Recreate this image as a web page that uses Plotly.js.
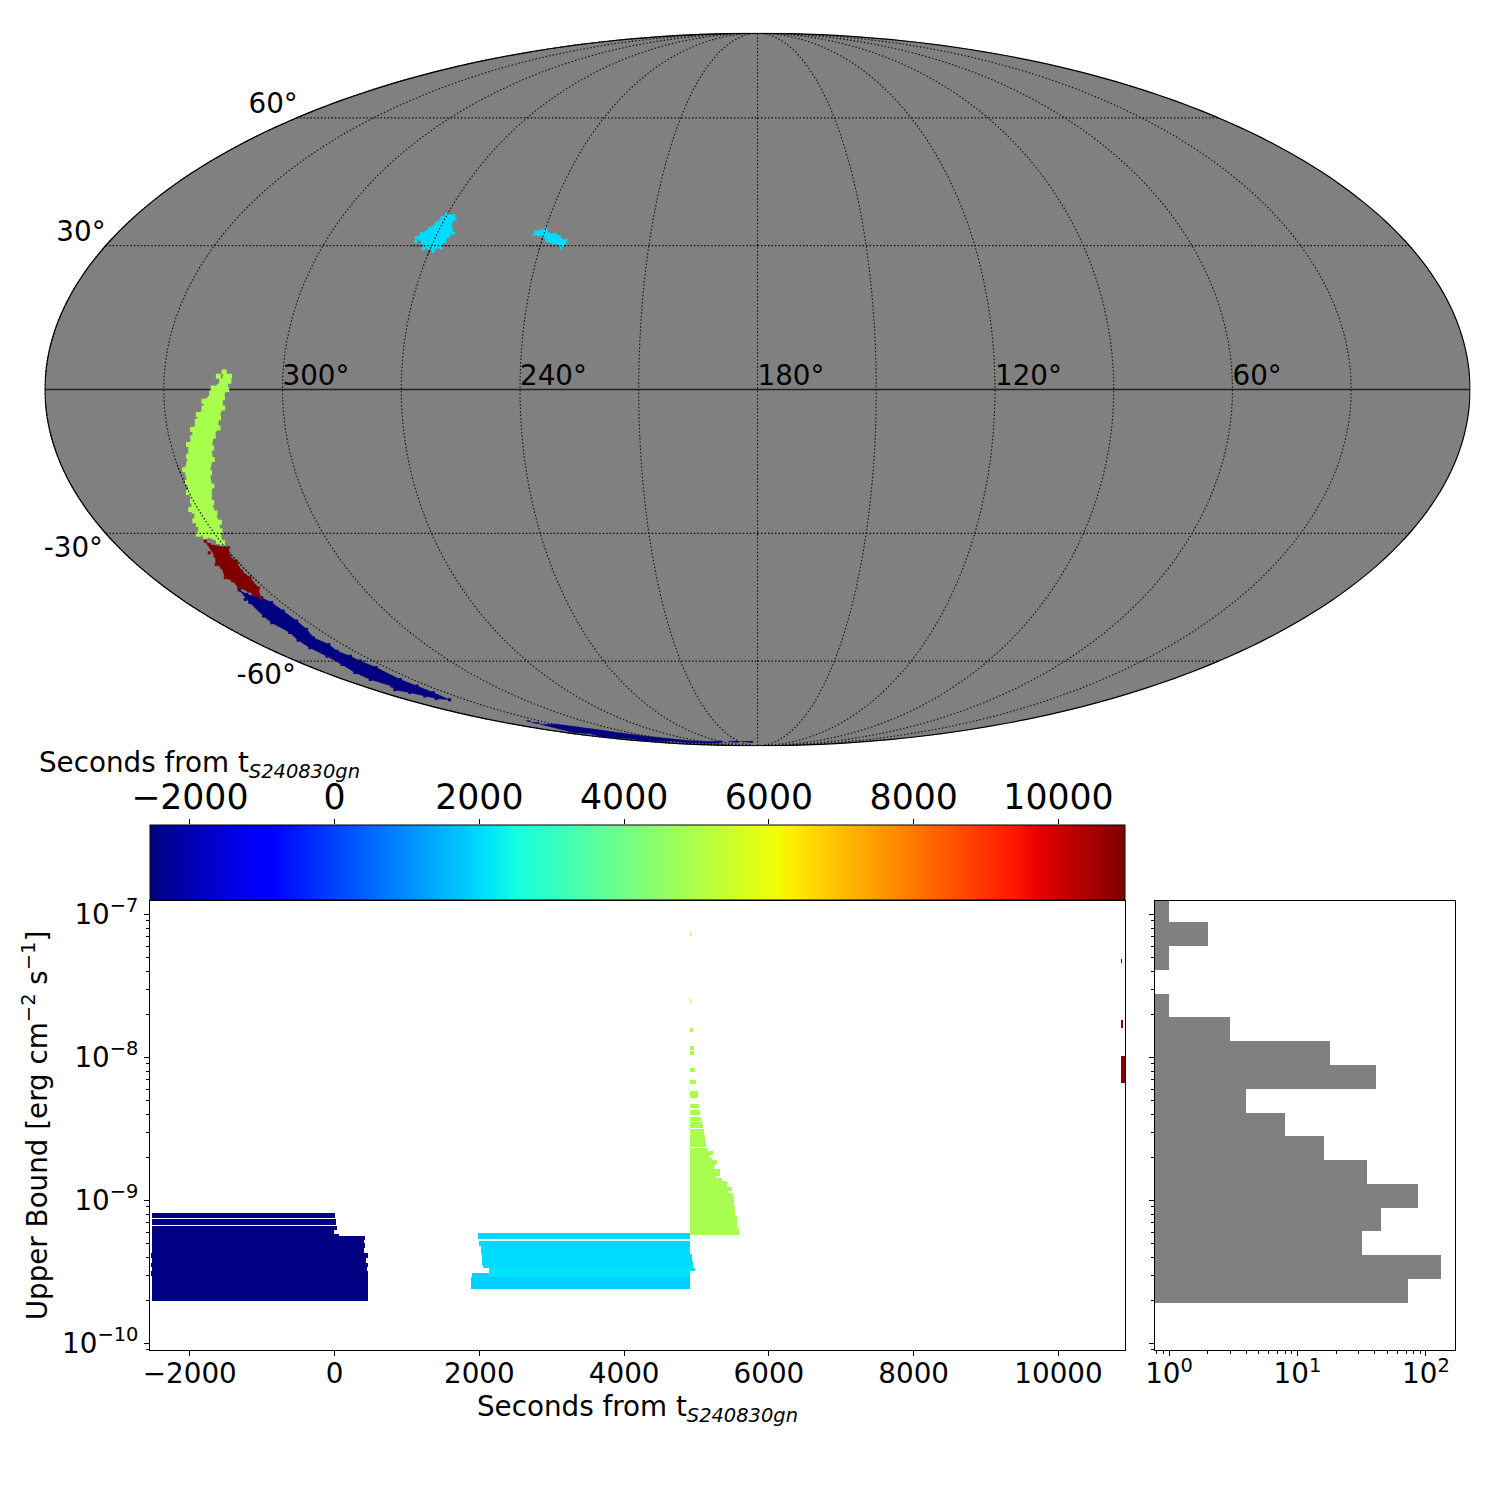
<!DOCTYPE html><html><head><meta charset="utf-8"><script src="https://cdn.plot.ly/plotly-3.0.1.min.js"></script><style>html,body{margin:0;background:#fff}.barlayer path{shape-rendering:crispEdges !important}</style></head><body><div id="chart" style="width:1500px;height:1500px"></div><script>
// ---- sky regions (right ascension, declination in degrees) ----
const greenRa=[314.9,313.5,313.6,314.1,315.2,315.3,316.6,317.1,318.7,319.8,320.5,322.4,323.2,325.4,326.1,326.5,328.0,329.7,330.5,333.1,334.6,332.6,332.9,331.4,332.1,330.3,330.2,329.2,328.5,326.3,325.5,324.0,323.6,322.1,321.6,320.0,319.9,317.9,317.5,315.4,316.3];
const greenDec=[3.6,2.7,1.7,0.0,-1.7,-3.8,-5.8,-7.9,-9.6,-12.0,-14.4,-17.2,-19.9,-23.4,-25.6,-27.6,-29.5,-32.0,-31.7,-30.6,-30.2,-28.1,-27.3,-25.2,-24.9,-23.1,-21.3,-19.2,-16.5,-13.7,-11.3,-9.9,-8.2,-6.5,-5.1,-3.8,-2.4,-0.7,0.3,1.7,2.7];
const redRa=[334.2,333.8,329.2,330.9,330.3,331.5,331.0,331.8,335.0,335.7,336.0,337.8,337.2,338.4,336.3,337.0,335.0,335.8];
const redDec=[-31.7,-32.4,-33.1,-34.9,-36.1,-38.3,-39.8,-42.1,-44.6,-43.6,-42.8,-42.1,-40.5,-39.8,-37.5,-36.8,-34.9,-34.2];
const navyRa=[338.4,337.7,334.4,333.2,333.0,333.2,334.0,336.4,335.1,336.5,335.1,335.1,334.0,335.3,335.3,335.9,338.4,343.1,344.7,347.1,350.4,346.7,348.3,347.5,345.1,344.0,344.1,343.3,341.6,342.3,341.7,340.0,340.2];
const navyDec=[-42.6,-43.6,-44.4,-45.5,-47.5,-49.9,-51.9,-54.0,-55.7,-57.4,-58.7,-60.0,-61.7,-65.0,-66.9,-68.8,-71.0,-70.6,-69.8,-68.8,-68.0,-66.9,-65.0,-63.1,-60.9,-58.7,-56.5,-54.6,-52.7,-50.3,-48.7,-45.5,-44.8];
const stripRa=[340.2,328.3,324.0,321.0,316.5,312.0,307.8,302.4,290.8,285.5,235.2,248.1,314.6,314.7,350.6,341.5,351.1,356.6,343.4,352.8,345.9,346.1];
const stripDec=[-79.2,-79.2,-79.9,-80.5,-81.2,-82.3,-83.3,-84.3,-85.3,-86.3,-86.5,-87.4,-87.4,-86.5,-86.5,-85.3,-84.8,-84.3,-83.0,-82.5,-81.2,-80.2];
const dashARa=[338.5,335.7,339.9,342.7], dashADec=[-77.9,-77.9,-78.4,-78.4];
const dashBRa=[340.7,335.4,339.9,345.3], dashBDec=[-78.6,-78.6,-79.1,-79.1];
const dashCRa=[226.5,210.6,218.5,238.6], dashCDec=[-86.7,-86.7,-87.6,-87.6];
const dashDRa=[205.3,187.7,189.7,211.8], dashDDec=[-86.7,-86.7,-87.6,-87.6];
const cyanARa=[275.3,274.4,272.8,271.7,271.0,270.3,268.0,267.0,267.6,266.6,265.5,266.5,266.8,267.5,267.1,268.8,268.9,270.6,271.9,272.8,274.9];
const cyanADec=[31.7,32.6,33.8,34.9,36.1,37.0,36.6,35.8,35.3,33.6,32.7,32.0,30.9,30.6,29.5,29.5,28.8,29.5,29.3,30.6,30.9];
const cyanBRa=[242.9,242.7,241.6,240.5,239.7,238.8,236.9,235.3,234.0,233.1,233.1,233.8,234.1,234.8,236.5,238.6,239.9,241.4];
const cyanBDec=[32.4,33.1,33.3,33.5,33.6,32.7,32.6,32.0,31.2,31.3,30.6,29.9,29.3,30.2,30.4,30.9,32.0,32.2];
// graticule pieces that show through the coloured regions
const overRa=[[330,330],[270,270],[240,240],[265,268,271,274,276],[233,236,239,242,243],[325,328,331,334,336],[333,335,337,339]];
const overDec=[[-41,-15],[28,37.5],[29,34],[30,30,30,30,30],[30,30,30,30,30],[-30,-30,-30,-30,-30],[-60,-60,-60,-60]];
// ---- upper-limit rows: log10 lower edge, log10 upper edge, start, end (s) ----
const navyLow=[-9.124,-9.170,-9.205,-9.236,-9.247,-9.278,-9.301,-9.336,-9.366,-9.406,-9.441,-9.469,-9.497,-9.529,-9.702];
const navyHigh=[-9.086,-9.131,-9.177,-9.205,-9.236,-9.247,-9.278,-9.301,-9.336,-9.366,-9.406,-9.441,-9.469,-9.497,-9.529];
const navyStart=[-2525,-2525,-2525,-2525,-2525,-2525,-2525,-2525,-2525,-2539,-2525,-2539,-2525,-2539,-2525];
const navyEnd=[7,21,35,-7,62,421,412,421,412,463,435,463,453,463,463];
const cyanLow=[-9.271,-9.317,-9.378,-9.424,-9.452,-9.476,-9.494,-9.536,-9.536,-9.620];
const cyanHigh=[-9.229,-9.285,-9.317,-9.378,-9.424,-9.452,-9.476,-9.508,-9.494,-9.536];
const cyanStart=[1987,1996,2023,2037,2042,2051,2134,1899,2134,1885];
const cyanEnd=[4910,4910,4910,4933,4952,4952,4979,4910,4910,4910];
const greenLow=[-7.152,-7.620,-7.823,-7.949,-7.984,-8.103,-8.187,-8.285,-8.355,-8.403,-8.445,-8.466,-8.494,-8.543,-8.585,-8.627,-8.655,-8.683,-8.704,-8.718,-8.748,-8.760,-8.781,-8.830,-8.844,-8.865,-8.907,-8.935,-8.949,-8.970,-9.040,-9.110,-9.194,-9.243];
const greenHigh=[-7.124,-7.592,-7.795,-7.921,-7.956,-8.075,-8.159,-8.236,-8.327,-8.369,-8.417,-8.452,-8.466,-8.504,-8.543,-8.585,-8.634,-8.655,-8.683,-8.704,-8.718,-8.748,-8.760,-8.781,-8.830,-8.844,-8.865,-8.907,-8.935,-8.949,-8.970,-9.040,-9.110,-9.194];
const greenStart=greenLow.map(()=>4910);
const greenEnd=[4924,4924,4952,4965,4965,4979,4993,5021,5035,5048,5062,5076,5090,5104,5117,5131,5159,5228,5173,5214,5283,5256,5242,5325,5269,5352,5421,5490,5435,5504,5518,5532,5559,5587];
const redLow=[-7.341,-7.795,-8.180], redHigh=[-7.313,-7.739,-7.991];
const redStart=[10863,10863,10863], redEnd=[10882,10891,10923];
// ---- histogram of upper bounds ----
const histLogEdgeFirst=-9.716, histLogBin=0.1662;
const histCounts=[72,131,32,45,87,35,16,8,4,41,18,3,1,0,1,2,1];
// ---- tick labels ----
const timeTicks=[-2000,0,2000,4000,6000,8000,10000];
const timeTickText=['−2000','0','2000','4000','6000','8000','10000'];
const ulTicks=[1e-10,1e-9,1e-8,1e-7];
const ulTickText=['10<sup>−10</sup>','10<sup>−9</sup>','10<sup>−8</sup>','10<sup>−7</sup>'];
const countTicks=[1,10,100];
const countTickText=['10<sup>0</sup>','10<sup>1</sup>','10<sup>2</sup>'];
const raLabels=[300,240,180,120,60];
const decLabels=[60,30,-30,-60];
const decLabelLon=[2.2,0.5,0.2,0.2];
const decLabelText=['60°','30°','-30°\u2009','-60°\u2009'];

const FONT="DejaVu Sans", BIG=27.78, CB=34.7, COL={green:'#a9ff4e',red:'#800000',navy:'#000080',cyan:'#00dcff'};
const jet=[[0,'rgb(0,0,128)'],[.11,'rgb(0,0,255)'],[.125,'rgb(0,0,255)'],[.34,'rgb(0,219,255)'],[.35,'rgb(0,230,247)'],[.375,'rgb(21,255,226)'],[.64,'rgb(239,255,8)'],[.65,'rgb(247,246,0)'],[.66,'rgb(255,236,0)'],[.89,'rgb(255,19,0)'],[.91,'rgb(232,0,0)'],[1,'rgb(128,0,0)']];
const flip=a=>a.map(r=>360-r);
const region=(ra,dec,c,size)=>({type:'scattergeo',mode:size?'lines+markers':'lines',lon:flip(ra),lat:dec,fill:'toself',fillcolor:c,line:{color:c,width:0.5},marker:{symbol:'square',size:size||1,color:c,line:{width:0}},hoverinfo:'skip',showlegend:false});
const low=[...navyLow,...cyanLow,...greenLow,...redLow], high=[...navyHigh,...cyanHigh,...greenHigh,...redHigh];
const start=[...navyStart,...cyanStart,...greenStart,...redStart], end=[...navyEnd,...cyanEnd,...greenEnd,...redEnd];
const CMIN=-2550,CMAX=10919;
const E=v=>Math.pow(10,v);
const axisBase={showline:true,linecolor:'black',linewidth:1,mirror:true,ticks:'outside',ticklen:5,tickcolor:'black',tickwidth:1,showgrid:false,zeroline:false,tickfont:{family:FONT,size:BIG,color:'black'}};
const minor={ticks:'outside',ticklen:3,tickcolor:'black',tickwidth:1,dtick:'D1',showgrid:false};
const yRange=[-10.047,-6.907];
const histEdges=histCounts.map((c,i)=>[E(histLogEdgeFirst+i*histLogBin),E(histLogEdgeFirst+(i+1)*histLogBin)]);
const DASH='1.5px,2px';
const GRID={showgrid:true,dtick:30,tick0:0,gridcolor:'#111',griddash:DASH,gridwidth:1.1};
const traces=[
 {type:'scattergeo',mode:'lines',lon:[0.01,90,180,270,359.99],lat:[0,0,0,0,0],line:{color:'#222',width:1.6},hoverinfo:'skip',showlegend:false},
 region(greenRa,greenDec,COL.green,5),region(navyRa,navyDec,COL.navy,3),region(redRa,redDec,COL.red,3),
 region(stripRa,stripDec,COL.navy),region(dashARa,dashADec,COL.navy),region(dashBRa,dashBDec,COL.navy),region(dashCRa,dashCDec,COL.navy),region(dashDRa,dashDDec,COL.navy),
 region(cyanARa,cyanADec,COL.cyan,3),region(cyanBRa,cyanBDec,COL.cyan,2),
 ...overRa.map((ra,i)=>({type:'scattergeo',mode:'lines',lon:flip(ra),lat:overDec[i],line:{color:'#111',width:1.1,dash:DASH},hoverinfo:'skip',showlegend:false})),
 {type:'scattergeo',mode:'text',lon:flip(raLabels),lat:raLabels.map(()=>-0.4),text:raLabels.map(v=>v+'°'),textposition:'top right',textfont:{family:FONT,size:BIG,color:'black'},hoverinfo:'skip',showlegend:false},
 {type:'scattergeo',mode:'text',lon:decLabelLon,lat:decLabels.map(v=>v-0.5),text:decLabelText,textposition:decLabels.map(v=>v>0?'top left':'bottom left'),textfont:{family:FONT,size:BIG,color:'black'},hoverinfo:'skip',showlegend:false},
 {type:'bar',orientation:'h',xaxis:'x',yaxis:'y',y:low.map((l,i)=>(E(l)+E(high[i]))/2),width:low.map((l,i)=>E(high[i])-E(l)),base:start,x:end.map((e,i)=>e-start[i]),
  marker:{color:start,cmin:CMIN,cmax:CMAX,colorscale:jet,line:{width:0},showscale:true,colorbar:{orientation:'h',x:637.5/1500,xanchor:'center',y:1-825/1500,yanchor:'top',thickness:75,thicknessmode:'pixels',len:975,lenmode:'pixels',xpad:0,ypad:0,outlinecolor:'black',outlinewidth:1,ticks:'',showticklabels:false}},hoverinfo:'skip',showlegend:false},
 {type:'bar',orientation:'h',xaxis:'x2',yaxis:'y2',y:histEdges.map(e=>(e[0]+e[1])/2),x:histCounts,width:histEdges.map(e=>e[1]-e[0]),marker:{color:'#808080',line:{width:0}},hoverinfo:'skip',showlegend:false},
 {type:'scatter',mode:'markers',xaxis:'x3',yaxis:'y3',x:[timeTicks[0]],y:[0],marker:{opacity:0},hoverinfo:'skip',showlegend:false}
];
const layout={width:1500,height:1500,autosize:false,margin:{l:0,r:0,t:0,b:0},paper_bgcolor:'white',plot_bgcolor:'white',showlegend:false,barmode:'overlay',
 font:{family:FONT,color:'black'},
 geo:{domain:{x:[45/1500,1470/1500],y:[1-746/1500,1-33/1500]},bgcolor:'rgba(0,0,0,0)',projection:{type:'mollweide',rotation:{lon:180,lat:0}},
  showframe:true,framecolor:'black',framewidth:1.2,showland:false,showocean:false,showlakes:false,showrivers:false,showcountries:false,showcoastlines:false,showsubunits:false,
  lonaxis:GRID,lataxis:GRID},
 xaxis:{...axisBase,domain:[150/1500,1125/1500],anchor:'y',range:[CMIN,CMAX],tickmode:'array',tickvals:timeTicks,ticktext:timeTickText,ticklabelstandoff:-6,title:{text:'Seconds from t<sub><i>S240830gn</i></sub>',font:{family:FONT,size:BIG,color:'black'},standoff:6}},
 yaxis:{...axisBase,domain:[1-1350/1500,1-901/1500],anchor:'x',type:'log',range:yRange,tickmode:'array',tickvals:ulTicks,ticktext:ulTickText,minor,title:{text:'Upper Bound [erg cm<sup>−2</sup> s<sup>−1</sup>]',font:{family:FONT,size:BIG,color:'black'},standoff:6}},
 xaxis2:{...axisBase,domain:[1155/1500,1455/1500],anchor:'y2',type:'log',range:[-0.109,2.226],tickmode:'array',tickvals:countTicks,ticktext:countTickText,ticklabelstandoff:-6,minor},
 yaxis2:{...axisBase,domain:[1-1350/1500,1-901/1500],anchor:'x2',type:'log',range:yRange,tickmode:'array',tickvals:ulTicks,showticklabels:false,minor},
 xaxis3:{...axisBase,mirror:false,showline:false,side:'top',domain:[150/1500,1125/1500],anchor:'y3',range:[CMIN,CMAX],tickmode:'array',tickvals:timeTicks,ticktext:timeTickText,ticklabelstandoff:-4,tickfont:{family:FONT,size:CB,color:'black'}},
 yaxis3:{domain:[1-900/1500,1-825/1500],anchor:'x3',range:[-1,1],visible:false},
 shapes:[{type:'circle',xref:'paper',yref:'paper',x0:45/1500,x1:1470/1500,y0:1-746/1500,y1:1-33/1500,fillcolor:'#808080',line:{width:0},layer:'below'}],
 annotations:[{xref:'paper',yref:'paper',x:37/1500,y:1-764/1500,xanchor:'left',yanchor:'middle',showarrow:false,text:'Seconds from t<sub><i>S240830gn</i></sub>',font:{family:FONT,size:BIG,color:'black'}}]
};
Plotly.newPlot('chart',traces,layout,{displayModeBar:false,staticPlot:true});
</script></body></html>
